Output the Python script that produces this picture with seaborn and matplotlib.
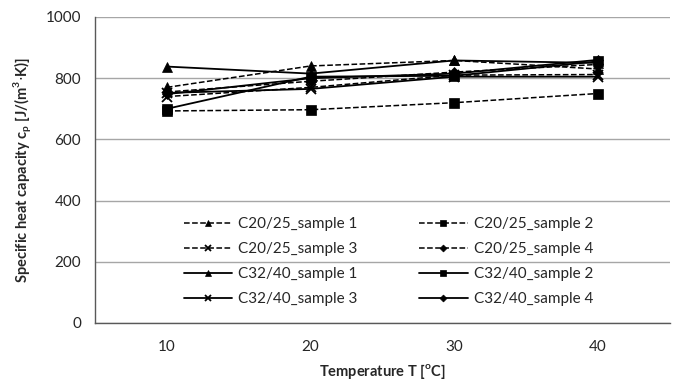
import matplotlib
matplotlib.use("Agg")
import matplotlib.pyplot as plt
import seaborn as sns
import pandas as pd

temperatures = [10, 20, 30, 40]
series_names = [
    "C20/25_sample 1", "C20/25_sample 2", "C20/25_sample 3", "C20/25_sample 4",
    "C32/40_sample 1", "C32/40_sample 2", "C32/40_sample 3", "C32/40_sample 4",
]
c20_s1 = [770, 840, 858, 830]
c20_s2 = [693, 697, 720, 750]
c20_s3 = [740, 770, 810, 812]
c20_s4 = [755, 790, 820, 845]
c32_s1 = [838, 815, 858, 850]
c32_s2 = [700, 805, 808, 855]
c32_s3 = [752, 765, 805, 805]
c32_s4 = [748, 800, 815, 860]
values = [c20_s1, c20_s2, c20_s3, c20_s4, c32_s1, c32_s2, c32_s3, c32_s4]

markers = ["^", "s", "x", "D", "^", "s", "x", "D"]
msizes = [7, 7, 7, 5, 7, 7, 7, 5]
styles = ["--"] * 4 + ["-"] * 4

sns.set_theme(style="white")
plt.rcParams["font.family"] = ["Lato", "DejaVu Sans"]

fig = plt.figure(figsize=(6.76, 3.84), dpi=100)
ax = fig.add_axes([95 / 676, 61 / 384, 575 / 676, 306 / 384])

handles = {}
for name, vals, mk, ms, ls in zip(series_names, values, markers, msizes, styles):
    df = pd.DataFrame({"T": temperatures, "cp": vals})
    sns.lineplot(data=df, x="T", y="cp", ax=ax, color="black", linestyle=ls,
                 linewidth=1.3 if ls == "-" else 1.1, marker=mk, markersize=ms,
                 markeredgewidth=1.3 if mk == "x" else 0.5, markeredgecolor="black",
                 label=name, legend=False)
    handles[name] = ax.lines[-1]

ax.set_xlim(5, 45)
ax.set_ylim(0, 1000)
ax.set_yticks(range(0, 1001, 200))
ax.set_xticks([5, 10, 20, 30, 40, 45])
ax.set_xticklabels(["", "10", "20", "30", "40", ""])
ax.yaxis.grid(True, color="#a6a6a6", linewidth=1.0)
ax.set_axisbelow(True)
for s in ["top", "right"]:
    ax.spines[s].set_visible(False)
for s in ["left", "bottom"]:
    ax.spines[s].set_color("#595959")
    ax.spines[s].set_linewidth(1.0)
ax.tick_params(axis="both", direction="out", length=4, width=1, color="#595959",
               labelsize=11, labelcolor="#262626", pad=6)
ax.tick_params(axis="x", pad=8)

ax.set_xlabel("Temperature T [$^{\\mathregular{o}}$C]", fontsize=10.5, fontweight="bold", labelpad=6)
ax.set_ylabel("Specific heat capacity c$_\\mathregular{p}$ [J/(m$^\\mathregular{3}$$\\cdot$K)]",
              fontsize=10.5, fontweight="bold", labelpad=8)

order = [series_names[i] for i in [0, 2, 4, 6, 1, 3, 5, 7]]
leg = ax.legend([handles[n] for n in order], order, ncol=2, frameon=False,
                loc="upper left", bbox_to_anchor=(0.13, 0.39), fontsize=11,
                handlelength=3.2, columnspacing=4.0, labelspacing=0.72, handletextpad=0.4,
                markerscale=0.7)

fig.savefig("out.png", dpi=100)
